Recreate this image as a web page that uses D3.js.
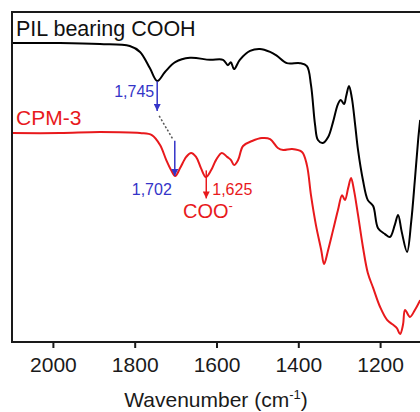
<!DOCTYPE html>
<html>
<head>
<meta charset="utf-8">
<script src="https://cdn.jsdelivr.net/npm/d3@7"></script>
<style>
    body { margin: 0; background: #fff; }
    text { font-family: "Liberation Sans", Arial, sans-serif; }
</style>
</head>
<body>
<div id="chart"></div>
<script>
// wavenumbers (cm-1) and transmittance values (a.u.)
let pilWave = [2100, 1983, 1885, 1812, 1787, 1763, 1745, 1726, 1701, 1665, 1616, 1584, 1572, 1565, 1557, 1543,
    1518, 1494, 1469, 1452, 1428, 1396, 1379, 1369, 1359, 1352, 1340, 1327, 1315, 1303, 1296, 1288, 1283,
    1276, 1269, 1261, 1254, 1242, 1230, 1217, 1205, 1188, 1176, 1164, 1156, 1147, 1134, 1124, 1115, 1107, 1102];
let pilValue = [90.6, 90.6, 90.3, 89.7, 87.9, 83.0, 79.1, 81.8, 84.8, 86.1, 85.5, 85.5, 83.9, 84.8, 82.7, 85.5,
    88.2, 88.8, 87.9, 86.7, 84.5, 84.5, 83.6, 77.9, 65.8, 61.2, 60.3, 62.1, 66.7, 72.1, 73.3, 72.1, 74.5,
    77.6, 73.9, 65.8, 58.2, 49.1, 43.0, 41.2, 34.5, 32.7, 31.8, 35.5, 38.5, 33.3, 27.3, 36.4, 49.1, 61.2, 67.3];

let cpmWave = [2100, 1983, 1885, 1787, 1758, 1738, 1723, 1711, 1701, 1689, 1674, 1662, 1650, 1638, 1626, 1613,
    1601, 1587, 1574, 1565, 1557, 1547, 1535, 1513, 1489, 1469, 1450, 1437, 1415, 1391, 1379, 1369, 1357,
    1344, 1337, 1327, 1315, 1303, 1293, 1286, 1278, 1271, 1264, 1254, 1242, 1230, 1217, 1200, 1183, 1168,
    1159, 1151, 1144, 1139, 1127, 1115, 1102];
let cpmValue = [63.3, 63.3, 63.6, 63.3, 62.7, 59.7, 55.2, 52.1, 50.3, 52.7, 56.1, 57.3, 56.1, 52.7, 50.0, 52.1,
    55.2, 57.3, 56.1, 55.2, 53.6, 55.2, 59.4, 60.9, 61.8, 61.5, 58.8, 58.2, 58.5, 57.6, 53.6, 44.5, 35.5,
    27.9, 23.6, 27.9, 33.9, 40.0, 44.5, 43.0, 46.7, 49.7, 46.1, 38.5, 28.8, 20.9, 16.4, 10.6, 6.7, 5.2,
    4.2, 2.4, 5.2, 9.7, 7.6, 9.7, 12.7];

let xTicks = [2000, 1800, 1600, 1400, 1200];

// peak annotations
let shiftFrom = 1745, shiftTo = 1702, cooPeak = 1625;

let width = 420, height = 412;
let margin = {top: 12, left: 12, right: -1, bottom: 70};

let svg = d3.select("#chart").append("svg")
    .attr("width", width)
    .attr("height", height);

let x = d3.scaleLinear().domain([2100, 1100]).range([margin.left, width - margin.right]);
let y = d3.scaleLinear().domain([0, 100]).range([height - margin.bottom, margin.top]);

let blue = "#3434c8", red = "#e8191c";

// arrow heads
let defs = svg.append("defs");
[["arrowBlue", blue], ["arrowRed", red]].forEach(m => {
    defs.append("marker")
        .attr("id", m[0])
        .attr("viewBox", "0 0 10 10")
        .attr("refX", 10).attr("refY", 5)
        .attr("markerWidth", 7).attr("markerHeight", 7)
        .attr("markerUnits", "userSpaceOnUse")
        .attr("orient", "auto")
        .append("path")
        .attr("d", "M0,0 L10,5 L0,10 Z")
        .attr("fill", m[1]);
});

// spectra
let line = d3.line()
    .x(d => x(d[0]))
    .y(d => y(d[1]))
    .curve(d3.curveCatmullRom.alpha(0.5));

let pil = pilWave.map((w, i) => [w, pilValue[i]]);
let cpm = cpmWave.map((w, i) => [w, cpmValue[i]]);

svg.append("path").datum(pil)
    .attr("d", line).attr("fill", "none")
    .attr("stroke", "#000").attr("stroke-width", 2);
svg.append("path").datum(cpm)
    .attr("d", line).attr("fill", "none")
    .attr("stroke", red).attr("stroke-width", 2);

// frame
svg.append("rect")
    .attr("x", x(2100)).attr("y", y(100))
    .attr("width", x(1100) - x(2100)).attr("height", y(0) - y(100))
    .attr("fill", "none").attr("stroke", "#1a1a1a").attr("stroke-width", 2);

// x axis
let xAxis = svg.append("g")
    .attr("transform", `translate(0, ${y(0)})`)
    .call(d3.axisBottom(x).tickValues(xTicks).tickSize(6).tickPadding(9).tickFormat(d3.format("d")));
xAxis.select(".domain").remove();
xAxis.selectAll("line").attr("stroke", "#1a1a1a").attr("stroke-width", 2);
xAxis.selectAll("text")
    .style("font-family", '"Liberation Sans", Arial, sans-serif')
    .style("font-size", "21px").attr("fill", "#1a1a1a");

let title = svg.append("text")
    .attr("x", 216).attr("y", 407)
    .style("text-anchor", "middle").style("font-size", "21px").attr("fill", "#1a1a1a");
title.append("tspan").text("Wavenumber (cm");
title.append("tspan").attr("dy", -8).style("font-size", "13px").text("-1");
title.append("tspan").attr("dy", 8).text(")");

// series labels
svg.append("text").attr("x", 16).attr("y", 36)
    .style("font-size", "21.5px").attr("fill", "#111").text("PIL bearing COOH");
svg.append("text").attr("x", 16).attr("y", 125)
    .style("font-size", "21px").attr("fill", red).text("CPM-3");

// 1745 -> 1702 shift
let x1 = x(shiftFrom), x2 = x(shiftTo), x3 = x(cooPeak);

svg.append("line")
    .attr("x1", x1).attr("x2", x1).attr("y1", y(79)).attr("y2", y(70))
    .attr("stroke", blue).attr("stroke-width", 1.5).attr("marker-end", "url(#arrowBlue)");
svg.append("line")
    .attr("x1", x1 + 2).attr("x2", x2 - 2).attr("y1", y(68.5)).attr("y2", y(61.5))
    .attr("stroke", "#555").attr("stroke-width", 1.5).attr("stroke-dasharray", "2,2");
svg.append("line")
    .attr("x1", x2).attr("x2", x2).attr("y1", y(61)).attr("y2", y(50.3))
    .attr("stroke", blue).attr("stroke-width", 1.5).attr("marker-end", "url(#arrowBlue)");

svg.append("text").attr("x", x1 - 3).attr("y", 97)
    .style("text-anchor", "end").style("font-size", "16px").attr("fill", blue).text("1,745");
svg.append("text").attr("x", x2 - 3).attr("y", 195)
    .style("text-anchor", "end").style("font-size", "16px").attr("fill", blue).text("1,702");

// COO- peak
svg.append("line")
    .attr("x1", x3).attr("x2", x3).attr("y1", y(52)).attr("y2", y(43.5))
    .attr("stroke", red).attr("stroke-width", 1.5).attr("marker-end", "url(#arrowRed)");
svg.append("text").attr("x", x3 + 6).attr("y", 195)
    .style("font-size", "16px").attr("fill", red).text("1,625");
let coo = svg.append("text").attr("x", 183).attr("y", 218)
    .style("font-size", "20px").attr("fill", red);
coo.append("tspan").text("COO");
coo.append("tspan").attr("dy", -8).style("font-size", "13px").text("-");
</script>
</body>
</html>
